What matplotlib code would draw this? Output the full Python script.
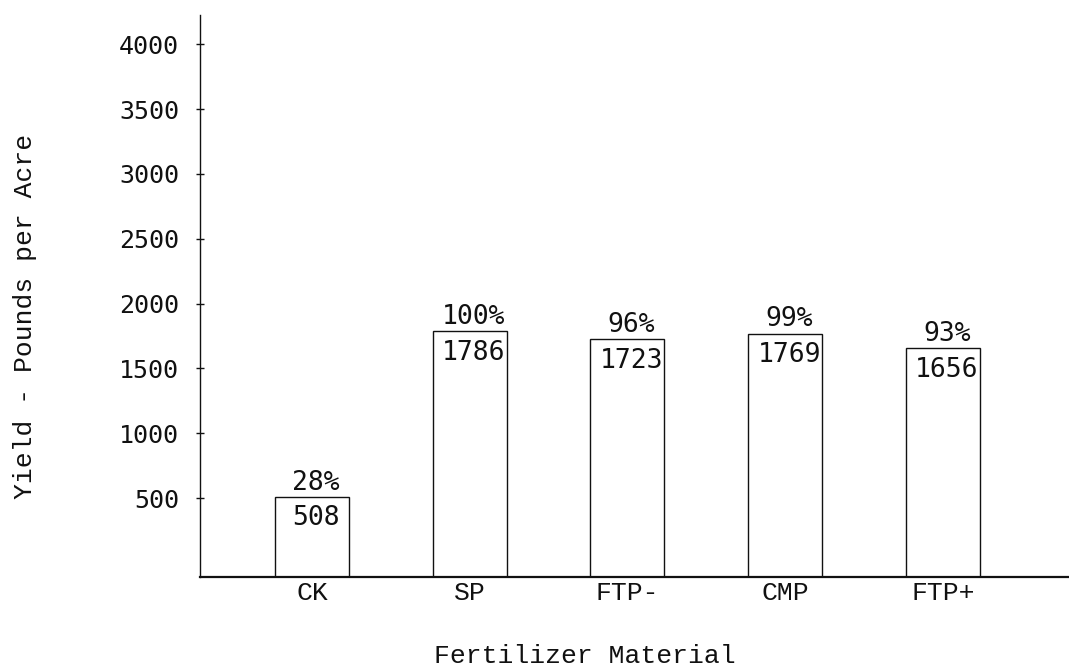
import numpy as np
import matplotlib
matplotlib.use("Agg")
import matplotlib.pyplot as plt

# data
materials = ["CK", "SP", "FTP-", "CMP", "FTP+"]
yields = [508, 1786, 1723, 1769, 1656]
percents = ["28%", "100%", "96%", "99%", "93%"]
y_ticks = [500, 1000, 1500, 2000, 2500, 3000, 3500, 4000]

# the hand drawn baseline sits a little below zero
Y_FLOOR = -108
Y_TOP = 4225

type_font = "Liberation Mono"
num_font = "DejaVu Sans Mono"

fig = plt.figure(figsize=(10.69, 6.71), dpi=100)
ax = fig.add_axes([0.1871, 0.1401, 0.8129, 0.8376])

x = np.arange(len(materials))
heights = np.array(yields) - Y_FLOOR
ax.bar(x, heights, bottom=Y_FLOOR, width=0.47, facecolor="white",
       edgecolor="#111111", linewidth=1.0)

# numbers inside and percentages above each bar
for xi, val, pct in zip(x, yields, percents):
    ax.annotate(str(val), (xi, val), xytext=(3, -6), textcoords="offset points",
                ha="center", va="top", fontsize=19, family=num_font, color="#111111")
    ax.annotate(pct, (xi, val), xytext=(3, 1), textcoords="offset points",
                ha="center", va="bottom", fontsize=19, family=num_font, color="#111111")

ax.set_xlim(-0.71, 4.80)
ax.set_ylim(Y_FLOOR, Y_TOP)

ax.set_xticks(x)
ax.set_xticklabels(materials, family=type_font, fontsize=19)
ax.set_yticks(y_ticks)
ax.set_yticklabels([str(t) for t in y_ticks], family=num_font, fontsize=18)

ax.tick_params(axis="x", length=0, pad=3, colors="#111111")
ax.tick_params(axis="y", direction="inout", length=6, width=1, pad=12, colors="#111111")

for side in ["top", "right"]:
    ax.spines[side].set_visible(False)
ax.spines["left"].set_linewidth(1.0)
ax.spines["bottom"].set_linewidth(1.6)
ax.spines["left"].set_color("#111111")
ax.spines["bottom"].set_color("#111111")

fig.text(0.547, 0.022, "Fertilizer Material", family=type_font, fontsize=19,
         ha="center", va="center", color="#111111")
fig.text(0.023, 0.528, "Yield - Pounds per Acre", family=type_font, fontsize=19,
         ha="center", va="center", rotation=90, color="#111111")

fig.savefig("out.png", dpi=100, facecolor="white")
